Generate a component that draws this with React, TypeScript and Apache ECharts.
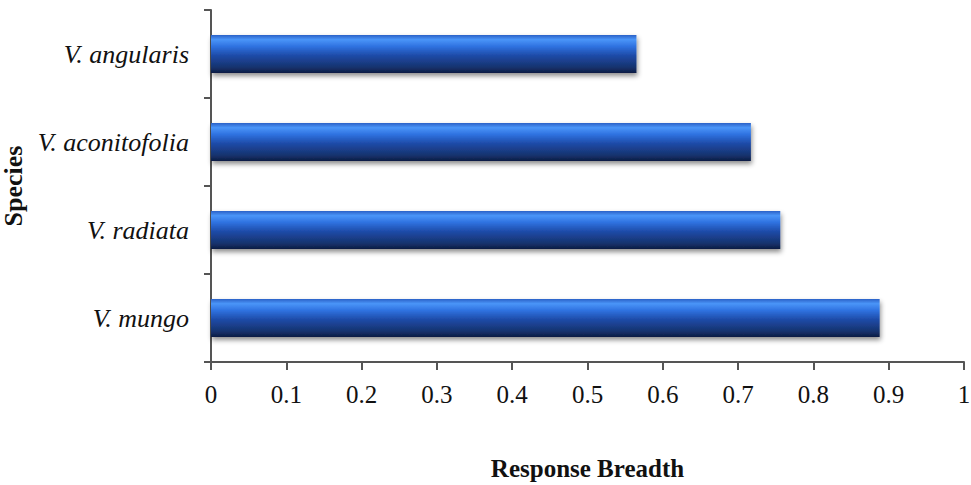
import React, { useEffect, useRef } from "react";
import * as echarts from "echarts";

const categories = ["V. angularis", "V. aconitofolia", "V. radiata", "V. mungo"];
const values = [0.565, 0.717, 0.756, 0.888];
const xTicks = { min: 0, max: 1, interval: 0.1 };

export default function App() {
  const ref = useRef<HTMLDivElement>(null);
  useEffect(() => {
    if (!ref.current) return;
    const chart = echarts.init(ref.current, null, { renderer: "svg" });
    const barColor = new echarts.graphic.LinearGradient(0, 0, 0, 1, [
      { offset: 0, color: "#2c62c8" },
      { offset: 0.12, color: "#4a95f8" },
      { offset: 0.3, color: "#2f72e0" },
      { offset: 0.55, color: "#1d4aa6" },
      { offset: 0.85, color: "#17336e" },
      { offset: 1, color: "#0d1c44" },
    ]);
    chart.setOption({
      animation: false,
      backgroundColor: "#ffffff",
      grid: { left: 211, right: 7, top: 10, bottom: 123, containLabel: false, outerBoundsMode: "none" },
      xAxis: {
        type: "value",
        min: xTicks.min,
        max: xTicks.max,
        interval: xTicks.interval,
        name: "Response Breadth",
        nameLocation: "middle",
        nameGap: 94,
        nameTextStyle: { fontFamily: "Liberation Serif", fontWeight: "bold", fontSize: 25, color: "#111" },
        axisLine: { show: true, lineStyle: { color: "#555", width: 2 } },
        axisTick: { show: true, length: 8, lineStyle: { color: "#555", width: 2 } },
        splitLine: { show: false },
        axisLabel: {
          fontFamily: "Liberation Serif",
          fontSize: 25,
          color: "#111",
          margin: 20,
          formatter: (v: number) => String(Math.round(v * 10) / 10),
        },
      },
      yAxis: {
        type: "category",
        data: categories,
        inverse: true,
        name: "Species",
        nameLocation: "middle",
        nameGap: 168,
        nameTextStyle: { fontFamily: "Liberation Serif", fontWeight: "bold", fontSize: 26, color: "#111" },
        axisLine: { show: true, lineStyle: { color: "#555", width: 2 } },
        axisTick: { show: true, length: 7, alignWithLabel: false, lineStyle: { color: "#555", width: 2 } },
        axisLabel: {
          fontFamily: "Liberation Serif",
          fontStyle: "italic",
          fontSize: 26,
          color: "#111",
          margin: 22,
        },
      },
      series: [
        {
          type: "bar",
          data: values,
          barWidth: "43%",
          itemStyle: {
            color: barColor,
            shadowBlur: 5,
            shadowOffsetY: 3,
            shadowOffsetX: 1,
            shadowColor: "rgba(0,0,0,0.45)",
          },
        },
      ],
    });
    return () => chart.dispose();
  }, []);
  return (
    <div
      ref={ref}
      style={{ position: "fixed", left: 0, top: 0, width: 971, height: 485 }}
    />
  );
}
